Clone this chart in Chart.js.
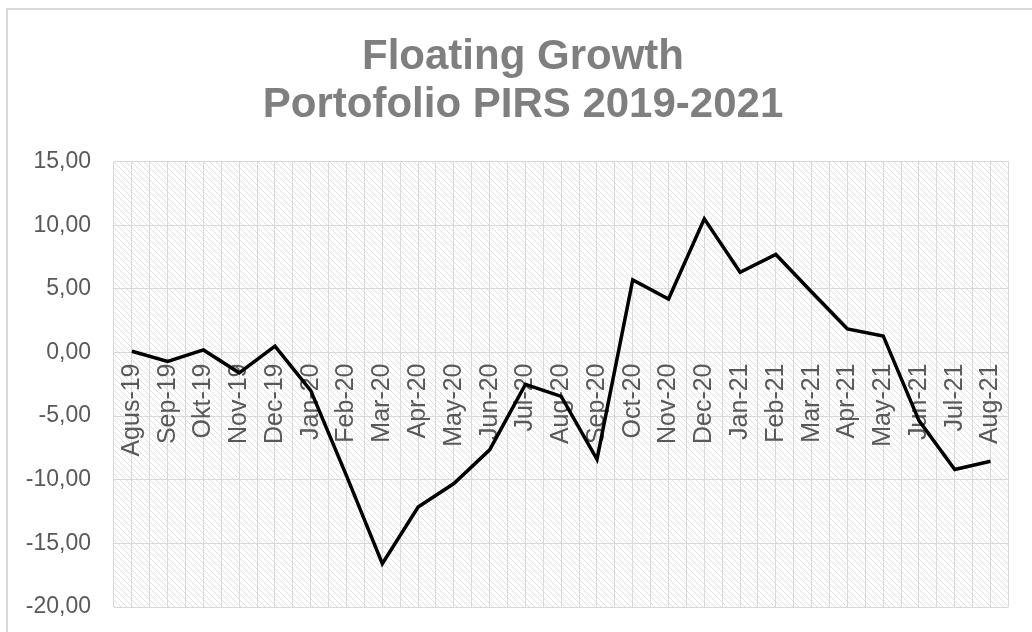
<!DOCTYPE html>
<html><head><meta charset="utf-8">
<script src="https://cdn.jsdelivr.net/npm/chart.js@4.4.1/dist/chart.umd.min.js"></script>
<style>
html,body{margin:0;padding:0;background:#fff;}
#wrap{position:relative;width:1032px;height:632px;overflow:hidden;}
#frame{position:absolute;left:6px;top:8px;width:1100px;height:700px;border:2px solid #d9d9d9;box-sizing:border-box;}
canvas{position:absolute;left:0;top:0;}
</style></head><body>
<div id="wrap"><div id="frame"></div><canvas id="c" width="1032" height="632"></canvas></div>
<script>
const categories = ['Agus-19','Sep-19','Okt-19','Nov-19','Dec-19','Jan-20','Feb-20','Mar-20','Apr-20','May-20','Jun-20','Jul-20','Aug-20','Sep-20','Oct-20','Nov-20','Dec-20','Jan-21','Feb-21','Mar-21','Apr-21','May-21','Jun-21','Jul-21','Aug-21'];
const growth = [0.1,-0.7,0.2,-1.6,0.5,-3.0,-9.7,-16.6,-12.15,-10.3,-7.65,-2.5,-3.45,-8.4,5.7,4.2,10.5,6.3,7.7,4.75,1.85,1.3,-5.35,-9.2,-8.55];
const titleLines = ['Floating Growth','Portofolio PIRS 2019-2021'];
const yMin = -20, yMax = 15, yStep = 5;

function makePattern(ctx){
  const p = document.createElement('canvas'); p.width = 6; p.height = 6;
  const c = p.getContext('2d');
  c.fillStyle = '#ffffff'; c.fillRect(0,0,6,6);
  c.fillStyle = '#e0e0e0';
  for (let i = 0; i < 6; i++) c.fillRect(i, i, 1, 1);
  return ctx.createPattern(p, 'repeat');
}
const hatch = {
  id: 'hatch',
  beforeDraw(chart){
    const {ctx, chartArea:a} = chart;
    ctx.save();
    ctx.fillStyle = makePattern(ctx);
    ctx.fillRect(a.left, a.top, a.right - a.left, a.bottom - a.top);
    ctx.restore();
  }
};
const grey = '#d9d9d9';
const font = '"Liberation Sans", Arial, sans-serif';
new Chart(document.getElementById('c'), {
  type: 'line',
  data: { labels: categories, datasets: [{ data: growth, borderColor:'#000', borderWidth:3.5, pointRadius:0, tension:0, fill:false, xAxisID:'x', yAxisID:'y' }] },
  options: {
    responsive:false, animation:false,
    layout:{ padding:{ left:14, top:10, right:0, bottom:25 } },
    plugins:{
      legend:{display:false}, tooltip:{enabled:false},
      title:{ display:true, text:titleLines, color:'#7f7f7f', font:{family:font, size:42, weight:'bold', lineHeight:1.15}, padding:{top:23,bottom:32} }
    },
    scales:{
      x:{ type:'category', offset:true, position:{y:0},
          grid:{ offset:true, color:grey, drawTicks:false },
          border:{ display:false },
          ticks:{ autoSkip:false, minRotation:90, maxRotation:90, padding:11, color:'#595959', font:{family:font, size:25} } },
      x2:{ type:'category', labels:categories, offset:true, position:'bottom',
          grid:{ offset:false, color:grey, drawTicks:false },
          border:{ display:false },
          ticks:{ display:false } },
      y:{ min:yMin, max:yMax,
          grid:{ color:grey, drawTicks:false },
          border:{ display:false },
          afterFit(s){ s.width = 100; s.paddingBottom = 12; s.paddingTop = 12; },
          ticks:{ stepSize:yStep, padding:23, color:'#595959', font:{family:font, size:23},
                  callback:v => v.toFixed(2).replace('.', ',') } },
      yRight:{ position:'right', display:true,
          grid:{ display:false, drawTicks:false },
          border:{ display:false },
          ticks:{ display:false },
          afterFit(s){ s.width = 19; s.paddingBottom = 0; s.paddingTop = 0; } }
    }
  },
  plugins:[hatch]
});
</script>
</body></html>
